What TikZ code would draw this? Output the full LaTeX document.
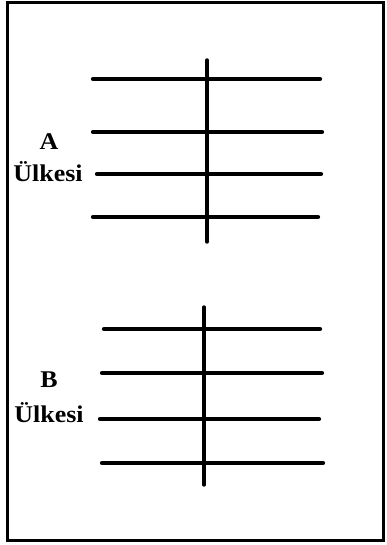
\documentclass[tikz,border=0pt]{standalone}
\usepackage{fontspec}
\setmainfont{Liberation Serif}
\begin{document}
\begin{tikzpicture}[x=1pt,y=-1pt,
  bar/.style={line width=4.2pt,line cap=round},
  stem/.style={line width=3.4pt,line cap=round},
  lbl/.style={inner sep=0pt,anchor=base,font=\fontsize{24}{27}\selectfont\bfseries,xscale=1.08}]
\useasboundingbox (0,0) rectangle (386,545);
\draw[line width=3pt] (7,3) rectangle (383,540);
% A country
\draw[stem] (207,60) -- (207,242);
\draw[bar] (93,79) -- (320,79);
\draw[bar] (93,132) -- (322,132);
\draw[bar] (97,174) -- (321,174);
\draw[bar] (93,217) -- (318,217);
\node[lbl] (la) at (49,150) {A};
\node[lbl] (ua) at (48,182) {Ülkesi};
% B country
\draw[stem] (204,307) -- (204,485);
\draw[bar] (104,329) -- (320,329);
\draw[bar] (102,373) -- (322,373);
\draw[bar] (100,419) -- (319,419);
\draw[bar] (102,463) -- (323,463);
\node[lbl] (lb) at (49,387) {B};
\node[lbl] (ub) at (49,422) {Ülkesi};
\end{tikzpicture}
\end{document}
